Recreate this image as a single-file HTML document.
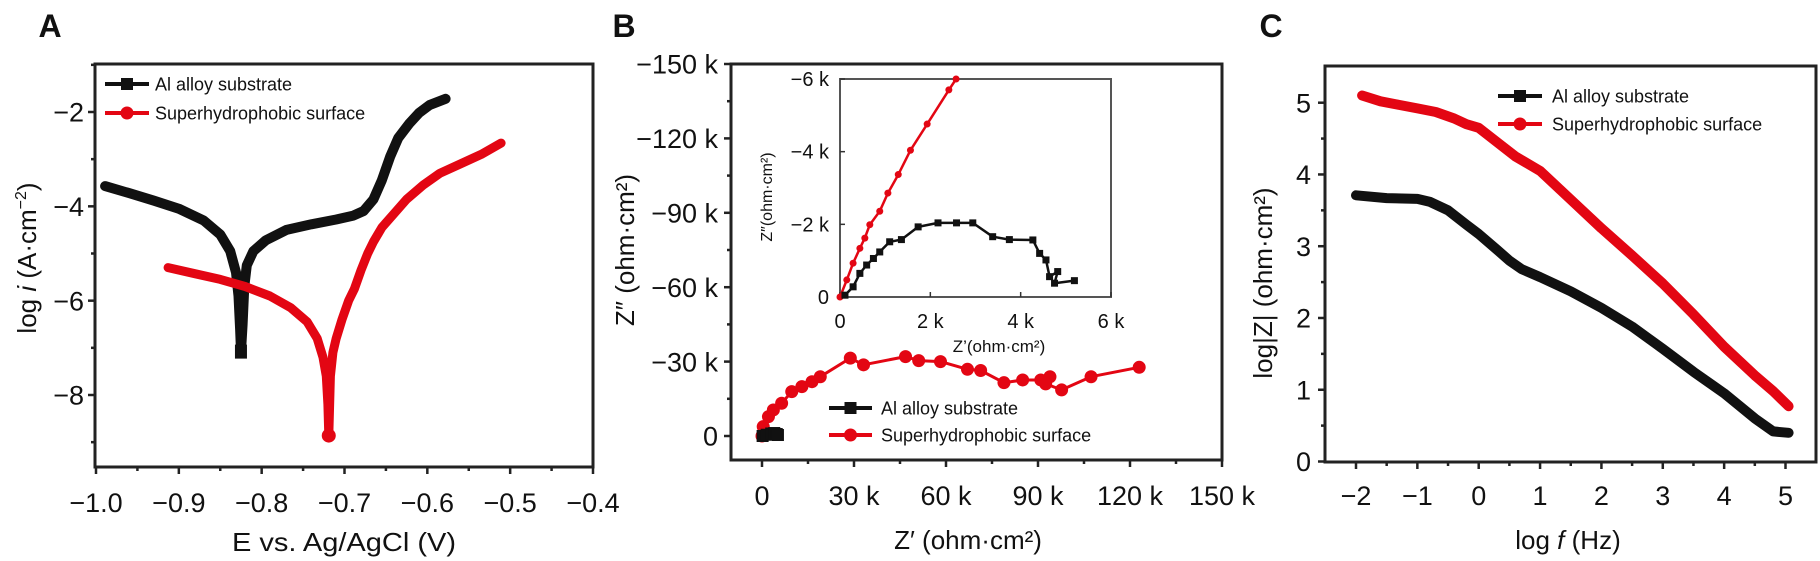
<!DOCTYPE html>
<html><head><meta charset="utf-8"><style>
html,body{margin:0;padding:0;background:#fff;}
svg{display:block;font-family:"Liberation Sans",Arial,sans-serif;}
</style></head><body>
<svg id="fig" width="1820" height="561" viewBox="0 0 1820 561" xmlns="http://www.w3.org/2000/svg"></svg>
<script>
// ---- Panel A data (polarization curves) ----
const aBlackE=[-0.989,-0.96,-0.93,-0.9,-0.87,-0.85,-0.838,-0.831,-0.828,-0.826,-0.825,-0.823,-0.821,-0.818,-0.81,-0.795,-0.77,-0.74,-0.71,-0.69,-0.677,-0.665,-0.655,-0.645,-0.635,-0.622,-0.61,-0.597,-0.578];
const aBlackLog=[-3.57,-3.72,-3.88,-4.05,-4.3,-4.6,-4.95,-5.4,-5.9,-6.6,-7.08,-6.5,-5.7,-5.25,-4.95,-4.72,-4.5,-4.38,-4.28,-4.2,-4.1,-3.85,-3.45,-2.95,-2.55,-2.25,-2.02,-1.85,-1.72];
const aRedE=[-0.913,-0.88,-0.85,-0.82,-0.79,-0.765,-0.745,-0.733,-0.726,-0.722,-0.72,-0.719,-0.717,-0.714,-0.71,-0.703,-0.695,-0.688,-0.68,-0.672,-0.665,-0.655,-0.64,-0.625,-0.605,-0.585,-0.56,-0.535,-0.511];
const aRedLog=[-5.3,-5.43,-5.55,-5.7,-5.9,-6.15,-6.45,-6.8,-7.2,-7.6,-8.2,-8.86,-7.6,-7.1,-6.8,-6.4,-6.0,-5.75,-5.35,-5.0,-4.75,-4.45,-4.15,-3.85,-3.55,-3.3,-3.1,-2.9,-2.66];
const aXTicks=[-1.0,-0.9,-0.8,-0.7,-0.6,-0.5,-0.4];
const aXLabels=["\u22121.0","\u22120.9","\u22120.8","\u22120.7","\u22120.6","\u22120.5","\u22120.4"];
const aYTicks=[-2,-4,-6,-8];
const aYLabels=["\u22122","\u22124","\u22126","\u22128"];
// ---- Panel B data (Nyquist, k ohm cm2) ----
const bRedX=[0,0.4,2.1,3.7,6.4,9.7,13,16.3,19,28.8,33.1,46.8,51.1,58.2,67,71.3,78.9,85,90.9,93.9,92.5,97.7,107.3,123];
const bRedY=[0,-3.8,-7.8,-10.5,-13.2,-17.9,-19.9,-21.9,-23.9,-31.4,-28.7,-32,-30.4,-30,-26.9,-26.4,-21.5,-22.6,-22.6,-23.9,-21,-18.6,-23.9,-27.7];
const bBlackX=[0.2,1.5,3,4,4.8,5.2];
const bBlackY=[0,-0.5,-1,-1.2,-0.8,-0.4];
const bXTicks=[0,30,60,90,120,150];
const bXLabels=["0","30 k","60 k","90 k","120 k","150 k"];
const bYTicks=[0,-30,-60,-90,-120,-150];
const bYLabels=["0","\u221230 k","\u221260 k","\u221290 k","\u2212120 k","\u2212150 k"];
// inset
const iRedX=[0,0.15,0.29,0.44,0.55,0.66,0.88,1.06,1.29,1.56,1.93,2.41,2.57];
const iRedY=[0,-0.47,-0.93,-1.34,-1.62,-1.99,-2.36,-2.86,-3.37,-4.04,-4.76,-5.7,-6.0];
const iBlackX=[0.11,0.29,0.44,0.59,0.74,0.88,1.10,1.36,1.73,2.17,2.58,2.94,3.38,3.75,4.27,4.42,4.56,4.64,4.82,4.75,5.19];
const iBlackY=[-0.05,-0.28,-0.65,-0.88,-1.06,-1.24,-1.52,-1.58,-1.93,-2.04,-2.04,-2.04,-1.66,-1.58,-1.57,-1.2,-1.02,-0.56,-0.7,-0.38,-0.45];
const iXTicks=[0,2,4,6];
const iXLabels=["0","2 k","4 k","6 k"];
const iYTicks=[0,-2,-4,-6];
const iYLabels=["0","\u22122 k","\u22124 k","\u22126 k"];
// ---- Panel C data (Bode) ----
const cRedF=[-1.9,-1.6,-1.3,-1.0,-0.7,-0.4,-0.2,0,0.3,0.6,1,1.5,2,2.5,3,3.5,4,4.5,4.8,5.05];
const cRedZ=[5.1,5.02,4.97,4.92,4.87,4.78,4.7,4.65,4.45,4.25,4.05,3.65,3.25,2.87,2.48,2.05,1.6,1.2,0.98,0.77];
const cBlackF=[-2,-1.5,-1,-0.8,-0.5,-0.2,0,0.3,0.5,0.7,1,1.5,2,2.5,3,3.5,4,4.5,4.8,5.05];
const cBlackZ=[3.71,3.67,3.66,3.62,3.5,3.3,3.17,2.95,2.8,2.68,2.57,2.37,2.14,1.88,1.57,1.25,0.95,0.6,0.42,0.4];
const cXTicks=[-2,-1,0,1,2,3,4,5];
const cXLabels=["\u22122","\u22121","0","1","2","3","4","5"];
const cYTicks=[0,1,2,3,4,5];
const cYLabels=["0","1","2","3","4","5"];

const NS="http://www.w3.org/2000/svg";
const svg=document.getElementById('fig');
function el(tag,attrs,parent,text){const e=document.createElementNS(NS,tag);for(const k in attrs)e.setAttribute(k,attrs[k]);if(text!==undefined)e.textContent=text;(parent||svg).appendChild(e);return e;}
function lin(d0,d1,p0,p1){return v=>p0+(v-d0)/(d1-d0)*(p1-p0);}

function frame(g,x0,y0,x1,y1,color,w){
  const r=el('rect',{x:x0,y:y0,width:x1-x0,height:y1-y0,fill:'none',stroke:color,'stroke-width':w},g);
  
}
function xAxis(g,sx,yb,ticks,labels,fs,minor,ly){
  ticks.forEach((t,i)=>{
    el('line',{x1:sx(t),x2:sx(t),y1:yb,y2:yb+7,stroke:'#222','stroke-width':2.5},g);
    const tx=el('text',{x:sx(t),y:ly,'font-size':fs,'text-anchor':'middle',fill:'#111'},g,labels[i]);
    
    if(minor&&i<ticks.length-1){const m=(t+ticks[i+1])/2;el('line',{x1:sx(m),x2:sx(m),y1:yb,y2:yb+4,stroke:'#222','stroke-width':2.5},g);}
  });
}
function yAxis(g,sy,xl,ticks,labels,fs,minor,lx){
  ticks.forEach((t,i)=>{
    el('line',{x1:xl-7,x2:xl,y1:sy(t),y2:sy(t),stroke:'#222','stroke-width':2.5},g);
    const tx=el('text',{x:lx,y:sy(t)+fs*0.36,'font-size':fs,'text-anchor':'end',fill:'#111'},g,labels[i]);
    
    if(minor&&i<ticks.length-1){const m=(t+ticks[i+1])/2;el('line',{x1:xl-4,x2:xl,y1:sy(m),y2:sy(m),stroke:'#222','stroke-width':2.5},g);}
  });
}
function series(g,name,xs,ys,sx,sy,color,lw,mr,square){
  const pts=xs.map((x,i)=>sx(x).toFixed(1)+','+sy(ys[i]).toFixed(1)).join(' ');
  const p=el('polyline',{points:pts,fill:'none',stroke:color,'stroke-width':lw,'stroke-linejoin':'round','stroke-linecap':'round'},g);
  
  if(mr>0){xs.forEach((x,i)=>{
    let m;
    if(square) m=el('rect',{x:sx(x)-mr,y:sy(ys[i])-mr,width:2*mr,height:2*mr,fill:color},g);
    else m=el('circle',{cx:sx(x),cy:sy(ys[i]),r:mr,fill:color},g);
    
  });}
}
function legend(g,x0,x1,y,tx,color,label,fs,square){
  const gg=el('g',{},g);
  el('line',{x1:x0,x2:x1,y1:y,y2:y,stroke:color,'stroke-width':4},gg);
  const c=(x0+x1)/2;
  if(square)el('rect',{x:c-6,y:y-6,width:12,height:12,fill:color},gg);else el('circle',{cx:c,cy:y,r:6.5,fill:color},gg);
  el('text',{x:tx,y:y+fs*0.36,'font-size':fs,fill:'#111'},gg,label);
}
function label(g,x,y,txt,fs,name,opts){
  const a={x:x,y:y,'font-size':fs,'text-anchor':'middle',fill:'#111'};Object.assign(a,opts||{});
  const t=el('text',a,g,txt);return t;
}
const BLK='#111',RED='#e30613';

// ===== Panel A =====
const gA=el('g',{});
const axL=95,axR=593,ayT=64,ayB=467;
const sxA=lin(-1.0,-0.4,96,593), syA=lin(-2,-8,112,395);
frame(gA,axL,ayT,axR,ayB,'#222',3);
xAxis(gA,sxA,ayB,aXTicks,aXLabels,27,true,512);
yAxis(gA,syA,axL,aYTicks,aYLabels,27,true,84);
el('line',{x1:axL-4,x2:axL,y1:syA(-9),y2:syA(-9),stroke:'#222','stroke-width':2.5},gA);
el('line',{x1:axL-4,x2:axL,y1:syA(-1),y2:syA(-1),stroke:'#222','stroke-width':2.5},gA);
series(gA,'al-alloy-polarization',aBlackE,aBlackLog,sxA,syA,BLK,10,0);
series(gA,'superhydrophobic-polarization',aRedE,aRedLog,sxA,syA,RED,9,0);
const ae1=el('rect',{x:sxA(-0.825)-6,y:syA(-7.08)-7,width:12,height:14,fill:BLK},gA);

const ae2=el('circle',{cx:sxA(-0.719),cy:syA(-8.86),r:7,fill:RED},gA);

legend(gA,105,149,84,155,BLK,'Al alloy substrate',18,true);
legend(gA,105,149,113,155,RED,'Superhydrophobic surface',18,false);
label(gA,344,551,'E vs. Ag/AgCl (V)',26,'x-axis-title',{textLength:224,lengthAdjust:'spacingAndGlyphs'});
const ayt=el('text',{x:0,y:0,'font-size':26,'text-anchor':'middle',fill:'#111',transform:'translate(36,258) rotate(-90)'},gA);

ayt.innerHTML='log <tspan font-style="italic">i</tspan> (A\u00b7cm<tspan dy="-10" font-size="16">\u22122</tspan><tspan dy="10">)</tspan>';
label(gA,50,37,'A',32,'panel-label-a',{'font-weight':'bold'});

// ===== Panel B =====
const gB=el('g',{});
const bxL=731,bxR=1222,byT=64,byB=460;
const sxB=lin(0,150,762,1222), syB=lin(0,-150,436,64);
frame(gB,bxL,byT,bxR,byB,'#222',3);
xAxis(gB,sxB,byB,bXTicks,bXLabels,27,true,505);
yAxis(gB,syB,bxL,bYTicks,bYLabels,27,true,718);
series(gB,'superhydrophobic-nyquist',bRedX,bRedY,sxB,syB,RED,3,6.5,false);
series(gB,'al-alloy-nyquist',bBlackX,bBlackY,sxB,syB,BLK,3,6,true);
legend(gB,829,872,408,881,BLK,'Al alloy substrate',18,true);
legend(gB,829,872,435,881,RED,'Superhydrophobic surface',18,false);
label(gB,968,549,'Z\u2032 (ohm\u00b7cm\u00b2)',26,'x-axis-title');
const byt=el('text',{x:0,y:0,'font-size':26,'text-anchor':'middle',fill:'#111',transform:'translate(634,250) rotate(-90)'},gB,'Z\u2033 (ohm\u00b7cm\u00b2)');

label(gB,624,37,'B',32,'panel-label-b',{'font-weight':'bold'});
// inset
const gI=el('g',{});
const sxI=lin(0,6,840,1111), syI=lin(0,-6,297,79);
el('rect',{x:840,y:79,width:271,height:218,fill:'#fff',stroke:'#555','stroke-width':2},gI);
iXTicks.forEach((t,i)=>{el('line',{x1:sxI(t),x2:sxI(t),y1:297,y2:292,stroke:'#333','stroke-width':1.5},gI);
  const tx=el('text',{x:sxI(t),y:328,'font-size':20,'text-anchor':'middle',fill:'#111'},gI,iXLabels[i]);});
iYTicks.forEach((t,i)=>{el('line',{x1:840,x2:845,y1:syI(t),y2:syI(t),stroke:'#333','stroke-width':1.5},gI);
  const tx=el('text',{x:829,y:syI(t)+7,'font-size':20,'text-anchor':'end',fill:'#111'},gI,iYLabels[i]);});
series(gI,'inset-superhydrophobic',iRedX,iRedY,sxI,syI,RED,2.5,3.5,false);
series(gI,'inset-al-alloy',iBlackX,iBlackY,sxI,syI,BLK,2.5,3.5,true);
label(gI,999,352,'Z\u2019(ohm\u00b7cm\u00b2)',17,'inset-x-axis-title');
const iyt=el('text',{x:0,y:0,'font-size':16,'text-anchor':'middle',fill:'#111',transform:'translate(772,197) rotate(-90)'},gI,'Z\u2033(ohm\u00b7cm\u00b2)');


// ===== Panel C =====
const gC=el('g',{});
const cxL=1325,cxR=1816,cyT=66,cyB=462;
const sxC=lin(-2,5,1356,1785.5), syC=lin(0,5,461.5,102.7);
frame(gC,cxL,cyT,cxR,cyB,'#222',3);
xAxis(gC,sxC,cyB,cXTicks,cXLabels,27,true,505);
yAxis(gC,syC,cxL,cYTicks,cYLabels,27,true,1311);
series(gC,'al-alloy-bode',cBlackF,cBlackZ,sxC,syC,BLK,10,0);
series(gC,'superhydrophobic-bode',cRedF,cRedZ,sxC,syC,RED,10,0);
legend(gC,1498,1542,96,1552,BLK,'Al alloy substrate',18,true);
legend(gC,1498,1542,124,1552,RED,'Superhydrophobic surface',18,false);
const cxt=el('text',{x:1568,y:549,'font-size':26,'text-anchor':'middle',fill:'#111'},gC);

cxt.innerHTML='log <tspan font-style="italic">f</tspan> (Hz)';
const cyt=el('text',{x:0,y:0,'font-size':26,'text-anchor':'middle',fill:'#111',transform:'translate(1272,283) rotate(-90)'},gC,'log|Z| (ohm\u00b7cm\u00b2)');

label(gC,1271,37,'C',32,'panel-label-c',{'font-weight':'bold'});
</script>
</body></html>
